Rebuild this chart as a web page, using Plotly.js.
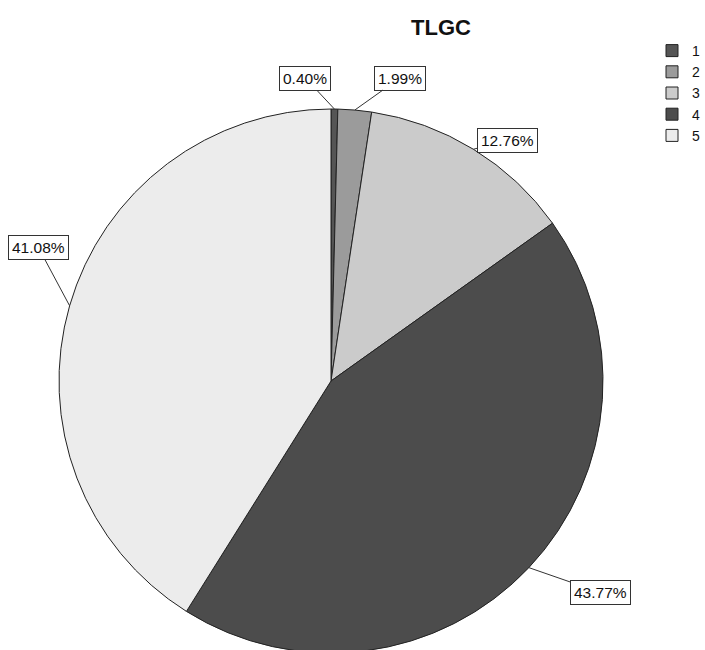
<!DOCTYPE html>
<html>
<head>
<meta charset="utf-8">
<script src="https://cdn.plot.ly/plotly-3.0.1.min.js"></script>
<style>
  html, body { margin: 0; padding: 0; background: #ffffff; overflow: hidden; }
  #chart { width: 705px; height: 700px; }
</style>
</head>
<body>
<div id="chart"></div>
<script>
// TLGC distribution by category (percent of cases)
const categories = ['1', '2', '3', '4', '5'];
const percents = [0.40, 1.99, 12.76, 43.77, 41.08];
const sliceColors = ['#555555', '#9b9b9b', '#cbcbcb', '#4c4c4c', '#ececec'];
// pixel offset of each value box from the rim point of its slice
const labelOffsets = [[-29, -31], [45, -32], [34, -9], [72, 25], [-31, -58]];

const W = 705, H = 700;
const cxPx = 331, cyPx = 381, rPx = 272;

const domainX = [(cxPx - rPx) / W, (cxPx + rPx) / W];
const domainY = [(H - (cyPx + rPx)) / H, (H - (cyPx - rPx)) / H];

const trace = {
  type: 'pie',
  labels: categories,
  values: percents,
  sort: false,
  direction: 'clockwise',
  rotation: 0,
  textinfo: 'none',
  hoverinfo: 'skip',
  marker: { colors: sliceColors, line: { color: '#222222', width: 1 } },
  domain: { x: domainX, y: domainY }
};

// value boxes with leader lines, anchored at each slice's rim midpoint
const total = percents.reduce((a, b) => a + b, 0);
let acc = 0;
const annotations = percents.map((v, i) => {
  const mid = (acc + v / 2) / total * 2 * Math.PI;
  acc += v;
  const px = cxPx + rPx * Math.sin(mid);
  const py = cyPx - rPx * Math.cos(mid);
  return {
    xref: 'paper', yref: 'paper',
    x: px / W, y: (H - py) / H,
    text: v.toFixed(2) + '%',
    showarrow: true, arrowhead: 0, arrowwidth: 1, arrowcolor: '#333333',
    ax: labelOffsets[i][0], ay: labelOffsets[i][1],
    bordercolor: '#333333', borderwidth: 1, borderpad: 3,
    bgcolor: '#ffffff',
    font: { family: 'Liberation Sans, Arial, sans-serif', size: 15.5, color: '#111111' }
  };
});

const layout = {
  width: W, height: H,
  margin: { l: 0, r: 0, t: 0, b: 0 },
  paper_bgcolor: '#ffffff',
  title: {
    text: '<b>TLGC</b>',
    font: { family: 'Liberation Sans, Arial, sans-serif', size: 22, color: '#111111' },
    x: 441 / W, xanchor: 'center', xref: 'paper',
    y: (H - 27) / H, yanchor: 'middle', yref: 'paper'
  },
  showlegend: true,
  legend: {
    x: 1, xanchor: 'right', y: (H - 35) / H, yanchor: 'top',
    font: { family: 'Liberation Sans, Arial, sans-serif', size: 14, color: '#111111' },
    bgcolor: 'rgba(0,0,0,0)', itemwidth: 30, tracegroupgap: 0
  },
  annotations: annotations
};

Plotly.newPlot('chart', [trace], layout, { staticPlot: true, displayModeBar: false });
</script>
</body>
</html>
